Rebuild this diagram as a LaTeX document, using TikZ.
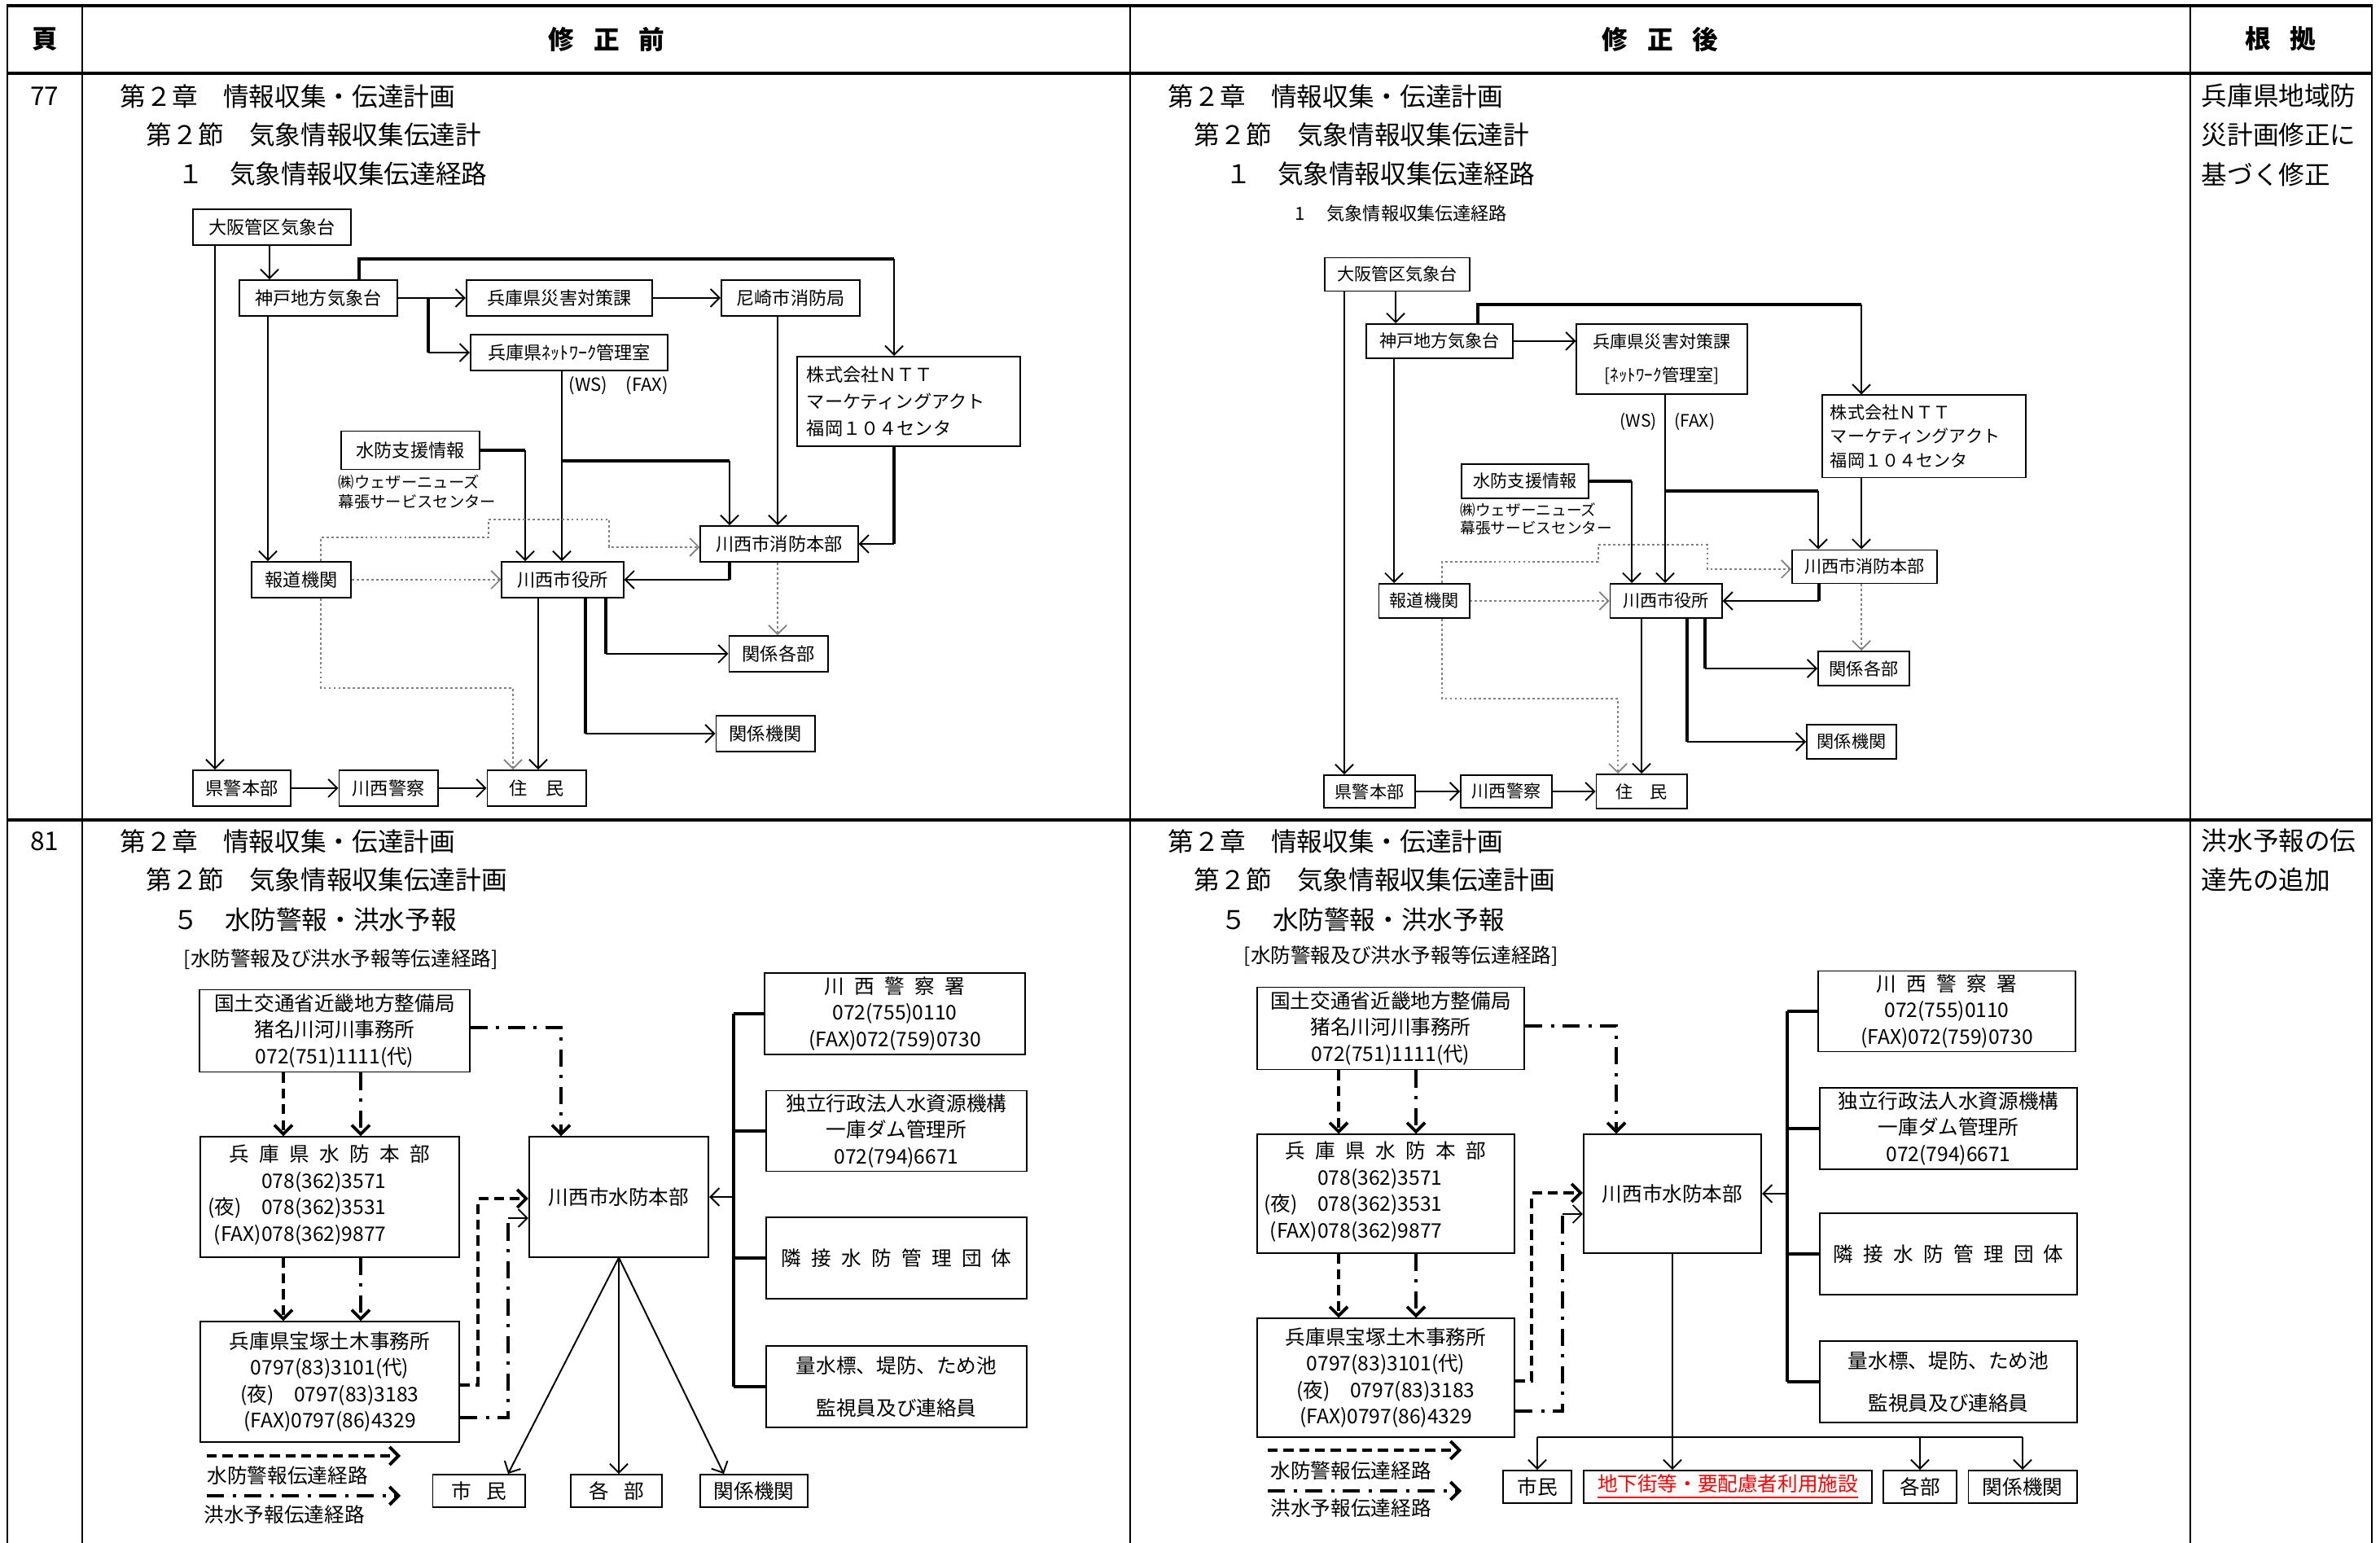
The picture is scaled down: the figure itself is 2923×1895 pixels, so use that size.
\documentclass[tikz,border=0pt]{standalone}
\usepackage{fontspec}
\setmainfont{Noto Sans CJK JP}
\usetikzlibrary{arrows.meta}
\tikzset{
  box/.style={draw,line width=.55pt,inner sep=1pt,minimum height=.44cm,align=center},
  wire/.style={line width=.55pt},
  heavy/.style={line width=1.3pt},
  faint/.style={gray,line width=.5pt,dash pattern=on .8pt off .9pt},
  warn/.style={line width=1.1pt,dash pattern=on 3.5pt off 2pt},
  flood/.style={line width=1.1pt,dash pattern=on 6pt off 3pt on 1.1pt off 3pt},
  body/.style={anchor=west,inner sep=0pt,font=\fontsize{9}{11}\selectfont},
  head/.style={inner sep=0pt,font=\fontsize{9}{11}\selectfont\bfseries},
  note/.style={inner sep=0pt,align=left},
}
\begin{document}
\begin{tikzpicture}[x=.01cm,y=-.01cm,>={Straight Barb[length=1.1mm,width=2.2mm]}]
\useasboundingbox (0,0) rectangle (2923,1895);

% table frame
\foreach \y in {7,90,1007} \draw[line width=1.15pt] (8,\y) -- (2914,\y);
\foreach \x in {9,101,1388,2690,2913} \draw[line width=.75pt] (\x,7) -- (\x,1895);

% header
\node[head] at (55,48) {頁};
\node[head] at (745,48) {修\hspace{.75em}正\hspace{.75em}前};
\node[head] at (2039,48) {修\hspace{.75em}正\hspace{.75em}後};
\node[head] at (2801,48) {根\hspace{.75em}拠};

% row 77
\node[body,anchor=center] at (55,118) {77};
\node[body] at (147,118) {第２章　情報収集・伝達計画};
\node[body] at (179,166) {第２節　気象情報収集伝達計};
\node[body] at (218,214) {１　気象情報収集伝達経路};
\node[body] at (1434,118) {第２章　情報収集・伝達計画};
\node[body] at (1466,166) {第２節　気象情報収集伝達計};
\node[body] at (1505,214) {１　気象情報収集伝達経路};
\node[body] at (2703,118) {兵庫県地域防};
\node[body] at (2703,166) {災計画修正に};
\node[body] at (2703,214) {基づく修正};

% row 81
\node[body,anchor=center] at (55,1033) {81};
\node[body] at (147,1033) {第２章　情報収集・伝達計画};
\node[body] at (179,1081) {第２節　気象情報収集伝達計画};
\node[body] at (212,1129) {５　水防警報・洪水予報};
\node[body] at (1434,1033) {第２章　情報収集・伝達計画};
\node[body] at (1466,1081) {第２節　気象情報収集伝達計画};
\node[body] at (1499,1129) {５　水防警報・洪水予報};
\node[body] at (2703,1033) {洪水予報の伝};
\node[body] at (2703,1081) {達先の追加};

% ---- before: weather information route
\begin{scope}[font=\fontsize{6.3}{9.3}\selectfont]
\node[box,minimum width=1.94cm] (osaka1) at (334,279) {大阪管区気象台};
\node[box,minimum width=1.94cm] (kobe1) at (391,366) {神戸地方気象台};
\node[box,minimum width=2.28cm] (saigai1) at (687,366) {兵庫県災害対策課};
\node[box,minimum width=1.70cm] (ama1) at (971,366) {尼崎市消防局};
\node[box,minimum width=2.42cm] (netkan1) at (699,433) {兵庫県ﾈｯﾄﾜｰｸ管理室};
\node[note] (ws1) at (760,474) {(WS)　(FAX)};
\node[box,minimum width=2.73cm,minimum height=1.10cm,align=left,text width=2.5cm] (ntt1) at (1116,493) {株式会社ＮＴＴ\\マーケティングアクト\\福岡１０４センタ};
\node[box,minimum width=1.69cm,minimum height=.47cm] (suibou1) at (504,553) {水防支援情報};
\node[note,anchor=north west,font=\fontsize{5.5}{6.8}\selectfont] (wn1) at (415,582) {㈱ウェザーニューズ\\幕張サービスセンター};
\node[box,minimum width=1.93cm] (shobo1) at (957,668) {川西市消防本部};
\node[box,minimum width=1.22cm] (hodo1) at (370,712) {報道機関};
\node[box,minimum width=1.49cm] (yakusho1) at (691,712) {川西市役所};
\node[box,minimum width=1.21cm] (kakubu1) at (956,803) {関係各部};
\node[box,minimum width=1.21cm] (kikan1) at (940,901) {関係機関};
\node[box,minimum width=1.20cm] (kenkei1) at (297,968) {県警本部};
\node[box,minimum width=1.21cm] (keisatsu1) at (477,968) {川西警察};
\node[box,minimum width=1.21cm] (jumin1) at (659,968) {住\hspace{1em}民};
\end{scope}

\draw[wire,->] (osaka1.south -| 331,0) -- (kobe1.north -| 331,0);
\draw[wire,->] (osaka1.south -| 264,0) -- (kenkei1.north -| 264,0);
\draw[wire,->] (kobe1) -- (saigai1);
\draw[wire,->] (saigai1) -- (ama1);
\draw[heavy] (kobe1.east -| 526,0) -- (netkan1.west -| 526,0);
\draw[wire,->] (netkan1.west -| 526,0) -- (netkan1.west);
\draw[heavy] (kobe1.north -| 441,0) -- (441,318) -- (1098,318);
\draw[wire,->] (1098,318) -- (ntt1.north -| 1098,0);
\draw[wire,->] (netkan1.south -| 690,0) -- (yakusho1.north -| 690,0);
\draw[heavy] (690,566) -- (896,566);
\draw[wire,->] (896,566) -- (shobo1.north -| 896,0);
\draw[wire,->] (ama1.south -| 955,0) -- (shobo1.north -| 955,0);
\draw[heavy] (ntt1.south -| 1098,0) -- (shobo1.east -| 1098,0);
\draw[wire,->] (shobo1.east -| 1098,0) -- (shobo1.east);
\draw[heavy] (suibou1.east) -- (suibou1.east -| 645,0);
\draw[wire,->] (suibou1.east -| 645,0) -- (yakusho1.north -| 645,0);
\draw[wire,->] (kobe1.south -| 329,0) -- (hodo1.north -| 329,0);
\draw[faint,->] (hodo1) -- (yakusho1);
\draw[faint,->] (hodo1.north -| 394,0) -- (394,660) -- (600,660) -- (600,638) -- (748,638) -- (748,672) -- (shobo1.west |- 0,672);
\draw[faint,->] (hodo1.south -| 394,0) -- (394,845) -- (630,845) -- (jumin1.north -| 630,0);
\draw[heavy] (shobo1.south -| 896,0) -- (yakusho1.east -| 896,0);
\draw[wire,->] (yakusho1.east -| 896,0) -- (yakusho1.east);
\draw[faint,->] (shobo1.south -| 955,0) -- (kakubu1.north -| 955,0);
\draw[wire,->] (yakusho1.south -| 661,0) -- (jumin1.north -| 661,0);
\draw[heavy] (yakusho1.south -| 744,0) -- (kakubu1.west -| 744,0);
\draw[wire,->] (kakubu1.west -| 744,0) -- (kakubu1.west);
\draw[heavy] (yakusho1.south -| 719,0) -- (kikan1.west -| 719,0);
\draw[wire,->] (kikan1.west -| 719,0) -- (kikan1.west);
\draw[wire,->] (kenkei1) -- (keisatsu1);
\draw[wire,->] (keisatsu1) -- (jumin1);

% ---- after: weather information route
\begin{scope}[font=\fontsize{6}{8.3}\selectfont]
\node[note,anchor=west,font=\fontsize{6.3}{8}\selectfont] (title2) at (1590,262) {1\hspace{1.2em}気象情報収集伝達経路};
\node[box,minimum width=1.78cm,minimum height=.41cm] (osaka2) at (1716,337) {大阪管区気象台};
\node[box,minimum width=1.79cm,minimum height=.42cm] (kobe2) at (1768,419) {神戸地方気象台};
\node[box,minimum width=2.09cm,minimum height=.86cm] (saigai2) at (2041,441) {兵庫県災害対策課\\[3.5pt][ﾈｯﾄﾜｰｸ管理室]};
\node[note] (ws2) at (2048,518) {(WS)　(FAX)};
\node[box,minimum width=2.50cm,minimum height=1.01cm,align=left,text width=2.3cm] (ntt2) at (2363,536) {株式会社ＮＴＴ\\マーケティングアクト\\福岡１０４センタ};
\node[box,minimum width=1.56cm,minimum height=.42cm] (suibou2) at (1873,591) {水防支援情報};
\node[note,anchor=north west,font=\fontsize{5.3}{6.3}\selectfont] (wn2) at (1793,617) {㈱ウェザーニューズ\\幕張サービスセンター};
\node[box,minimum width=1.78cm,minimum height=.41cm] (shobo2) at (2290,696) {川西市消防本部};
\node[box,minimum width=1.11cm,minimum height=.42cm] (hodo2) at (1749,738) {報道機関};
\node[box,minimum width=1.37cm,minimum height=.42cm] (yakusho2) at (2046,738) {川西市役所};
\node[box,minimum width=1.12cm,minimum height=.42cm] (kakubu2) at (2289,821) {関係各部};
\node[box,minimum width=1.10cm,minimum height=.42cm] (kikan2) at (2274,911) {関係機関};
\node[box,minimum width=1.12cm,minimum height=.40cm] (kenkei2) at (1682,972) {県警本部};
\node[box,minimum width=1.12cm,minimum height=.40cm] (keisatsu2) at (1850,972) {川西警察};
\node[box,minimum width=1.11cm,minimum height=.42cm] (jumin2) at (2016,972) {住\hspace{1em}民};
\end{scope}

\draw[wire,->] (osaka2.south -| 1714,0) -- (kobe2.north -| 1714,0);
\draw[wire,->] (osaka2.south -| 1651,0) -- (kenkei2.north -| 1651,0);
\draw[wire,->] (kobe2.east) -- (saigai2.west |- kobe2.east);
\draw[heavy] (kobe2.north -| 1815,0) -- (1815,374) -- (2286,374);
\draw[wire,->] (2286,374) -- (ntt2.north -| 2286,0);
\draw[wire,->] (saigai2.south -| 2045,0) -- (yakusho2.north -| 2045,0);
\draw[heavy] (2045,603) -- (2233,603);
\draw[wire,->] (2233,603) -- (shobo2.north -| 2233,0);
\draw[wire,->] (ntt2.south -| 2286,0) -- (shobo2.north -| 2286,0);
\draw[heavy] (suibou2.east) -- (suibou2.east -| 2004,0);
\draw[wire,->] (suibou2.east -| 2004,0) -- (yakusho2.north -| 2004,0);
\draw[wire,->] (kobe2.south -| 1712,0) -- (hodo2.north -| 1712,0);
\draw[faint,->] (hodo2) -- (yakusho2);
\draw[faint,->] (hodo2.north -| 1771,0) -- (1771,690) -- (1963,690) -- (1963,669) -- (2097,669) -- (2097,699) -- (shobo2.west |- 0,699);
\draw[faint,->] (hodo2.south -| 1771,0) -- (1771,858) -- (1987,858) -- (jumin2.north -| 1987,0);
\draw[heavy] (shobo2.south -| 2234,0) -- (yakusho2.east -| 2234,0);
\draw[wire,->] (yakusho2.east -| 2234,0) -- (yakusho2.east);
\draw[faint,->] (shobo2.south -| 2286,0) -- (kakubu2.north -| 2286,0);
\draw[wire,->] (yakusho2.south -| 2016,0) -- (jumin2.north -| 2016,0);
\draw[heavy] (yakusho2.south -| 2094,0) -- (kakubu2.west -| 2094,0);
\draw[wire,->] (kakubu2.west -| 2094,0) -- (kakubu2.west);
\draw[heavy] (yakusho2.south -| 2072,0) -- (kikan2.west -| 2072,0);
\draw[wire,->] (kikan2.west -| 2072,0) -- (kikan2.west);
\draw[wire,->] (kenkei2) -- (keisatsu2);
\draw[wire,->] (keisatsu2) -- (jumin2);

% ---- before: flood warning route
\begin{scope}[font=\fontsize{7}{9.2}\selectfont]
\node[note,anchor=west] (title3) at (225,1178) {[水防警報及び洪水予報等伝達経路]};
\node[box,minimum width=3.31cm,minimum height=1.01cm] (kokudo3) at (411,1266) {国土交通省近畿地方整備局\\猪名川河川事務所\\072(751)1111(代)};
\node[box,minimum width=3.18cm,minimum height=1.47cm] (kensui3) at (405,1470) {兵\kern.5em 庫\kern.5em 県\kern.5em 水\kern.5em 防\kern.5em 本\kern.5em 部\\\begin{tabular}[t]{@{}r@{}}078(362)3571\\(夜)　078(362)3531\\(FAX)078(362)9877\end{tabular}\hspace*{.8cm}};
\node[box,minimum width=3.18cm,minimum height=1.47cm] (takara3) at (405,1697) {兵庫県宝塚土木事務所\\0797(83)3101(代)\\(夜)　0797(83)3183\\(FAX)0797(86)4329};
\node[box,minimum width=2.20cm,minimum height=1.47cm] (kawa3) at (760,1470) {川西市水防本部};
\node[box,minimum width=3.19cm,minimum height=1.00cm] (police3) at (1099,1245) {川\kern.5em 西\kern.5em 警\kern.5em 察\kern.5em 署\\072(755)0110\\(FAX)072(759)0730};
\node[box,minimum width=3.20cm,minimum height=.99cm] (dam3) at (1101,1389) {独立行政法人水資源機構\\一庫ダム管理所\\072(794)6671};
\node[box,minimum width=3.20cm,minimum height=1.00cm] (rinsetsu3) at (1101,1545) {隣\kern.5em 接\kern.5em 水\kern.5em 防\kern.5em 管\kern.5em 理\kern.5em 団\kern.5em 体};
\node[box,minimum width=3.20cm,minimum height=1.00cm] (kanshi3) at (1101,1703) {量水標、堤防、ため池\\[5.5pt]監視員及び連絡員};
\node[box,minimum width=1.13cm,minimum height=.40cm] (shimin3) at (588,1831) {市\kern.75em 民};
\node[box,minimum width=1.12cm,minimum height=.40cm] (kakubu3) at (757,1831) {各\kern.75em 部};
\node[box,minimum width=1.32cm,minimum height=.40cm] (kikan3) at (926,1831) {関係機関};
\node[note,anchor=west] (lgw3) at (254,1812) {水防警報伝達経路};
\node[note,anchor=west] (lgf3) at (250,1860) {洪水予報伝達経路};
\end{scope}

\draw[warn,->] (kokudo3.south -| 348,0) -- (kensui3.north -| 348,0);
\draw[flood,->] (kokudo3.south -| 443,0) -- (kensui3.north -| 443,0);
\draw[flood,->] (kokudo3.east |- 0,1262) -- (689,1262) -- (kawa3.north -| 689,0);
\draw[warn,->] (kensui3.south -| 348,0) -- (takara3.north -| 348,0);
\draw[flood,->] (kensui3.south -| 443,0) -- (takara3.north -| 443,0);
\draw[warn,->] (takara3.east |- 0,1701) -- (587,1701) -- (587,1472) -- (kawa3.west |- 0,1472);
\draw[flood] (takara3.east |- 0,1741) -- (624,1741) -- (624,1496);
\draw[wire,->] (624,1496) -- (kawa3.west |- 0,1496);
\draw[heavy] (police3.west -| 901,0) -- (kanshi3.west -| 901,0);
\foreach \n in {police3,dam3,rinsetsu3,kanshi3} \draw[heavy] (\n.west -| 901,0) -- (\n.west);
\draw[wire,->] (kawa3.east -| 901,0) -- (kawa3.east);
\draw[wire,->] (kawa3.south) -- (shimin3.north -| 624,0);
\draw[wire,->] (kawa3.south) -- (kakubu3.north -| 760,0);
\draw[wire,->] (kawa3.south) -- (kikan3.north -| 889,0);
\draw[warn,->] (254,1788) -- (492,1788);
\draw[flood,->] (254,1837) -- (492,1837);

% ---- after: flood warning route
\begin{scope}[font=\fontsize{7}{9.2}\selectfont]
\node[note,anchor=west] (title4) at (1527,1174) {[水防警報及び洪水予報等伝達経路]};
\node[box,minimum width=3.28cm,minimum height=1.01cm] (kokudo4) at (1708,1263) {国土交通省近畿地方整備局\\猪名川河川事務所\\072(751)1111(代)};
\node[box,minimum width=3.16cm,minimum height=1.45cm] (kensui4) at (1702,1466) {兵\kern.5em 庫\kern.5em 県\kern.5em 水\kern.5em 防\kern.5em 本\kern.5em 部\\\begin{tabular}[t]{@{}r@{}}078(362)3571\\(夜)　078(362)3531\\(FAX)078(362)9877\end{tabular}\hspace*{.8cm}};
\node[box,minimum width=3.16cm,minimum height=1.45cm] (takara4) at (1702,1692) {兵庫県宝塚土木事務所\\0797(83)3101(代)\\(夜)　0797(83)3183\\(FAX)0797(86)4329};
\node[box,minimum width=2.18cm,minimum height=1.45cm] (kawa4) at (2054,1466) {川西市水防本部};
\node[box,minimum width=3.16cm,minimum height=.99cm] (police4) at (2391,1242) {川\kern.5em 西\kern.5em 警\kern.5em 察\kern.5em 署\\072(755)0110\\(FAX)072(759)0730};
\node[box,minimum width=3.16cm,minimum height=1.00cm] (dam4) at (2393,1386) {独立行政法人水資源機構\\一庫ダム管理所\\072(794)6671};
\node[box,minimum width=3.16cm,minimum height=1.00cm] (rinsetsu4) at (2393,1540) {隣\kern.5em 接\kern.5em 水\kern.5em 防\kern.5em 管\kern.5em 理\kern.5em 団\kern.5em 体};
\node[box,minimum width=3.16cm,minimum height=1.00cm] (kanshi4) at (2393,1697) {量水標、堤防、ため池\\[5.5pt]監視員及び連絡員};
\node[box,minimum width=.84cm,minimum height=.40cm] (shimin4) at (1888,1826) {市民};
\node[box,minimum width=3.54cm,minimum height=.40cm,text=red] (chika4) at (2122,1826) {\underline{地下街等・要配慮者利用施設}};
\node[box,minimum width=.90cm,minimum height=.40cm] (kakubu4) at (2358,1826) {各部};
\node[box,minimum width=1.33cm,minimum height=.40cm] (kikan4) at (2484,1826) {関係機関};
\node[note,anchor=west] (lgw4) at (1560,1806) {水防警報伝達経路};
\node[note,anchor=west] (lgf4) at (1560,1852) {洪水予報伝達経路};
\end{scope}

\draw[warn,->] (kokudo4.south -| 1644,0) -- (kensui4.north -| 1644,0);
\draw[flood,->] (kokudo4.south -| 1739,0) -- (kensui4.north -| 1739,0);
\draw[flood,->] (kokudo4.east |- 0,1260) -- (1985,1260) -- (kawa4.north -| 1985,0);
\draw[warn,->] (kensui4.south -| 1644,0) -- (takara4.north -| 1644,0);
\draw[flood,->] (kensui4.south -| 1739,0) -- (takara4.north -| 1739,0);
\draw[warn,->] (takara4.east |- 0,1696) -- (1881,1696) -- (1881,1465) -- (kawa4.west |- 0,1465);
\draw[flood] (takara4.east |- 0,1733) -- (1919,1733) -- (1919,1491);
\draw[wire,->] (1919,1491) -- (kawa4.west |- 0,1491);
\draw[heavy] (police4.west -| 2195,0) -- (kanshi4.west -| 2195,0);
\foreach \n in {police4,dam4,rinsetsu4,kanshi4} \draw[heavy] (\n.west -| 2195,0) -- (\n.west);
\draw[wire,->] (kawa4.east -| 2195,0) -- (kawa4.east);
\draw[wire,->] (kawa4.south) -- (chika4.north -| kawa4.south);
\draw[wire] (shimin4.north |- 0,1765) -- (kikan4.north |- 0,1765);
\foreach \n in {shimin4,kakubu4,kikan4} \draw[wire,->] (\n.north |- 0,1765) -- (\n.north);
\draw[warn,->] (1557,1781) -- (1795,1781);
\draw[flood,->] (1557,1831) -- (1795,1831);
\end{tikzpicture}
\end{document}
